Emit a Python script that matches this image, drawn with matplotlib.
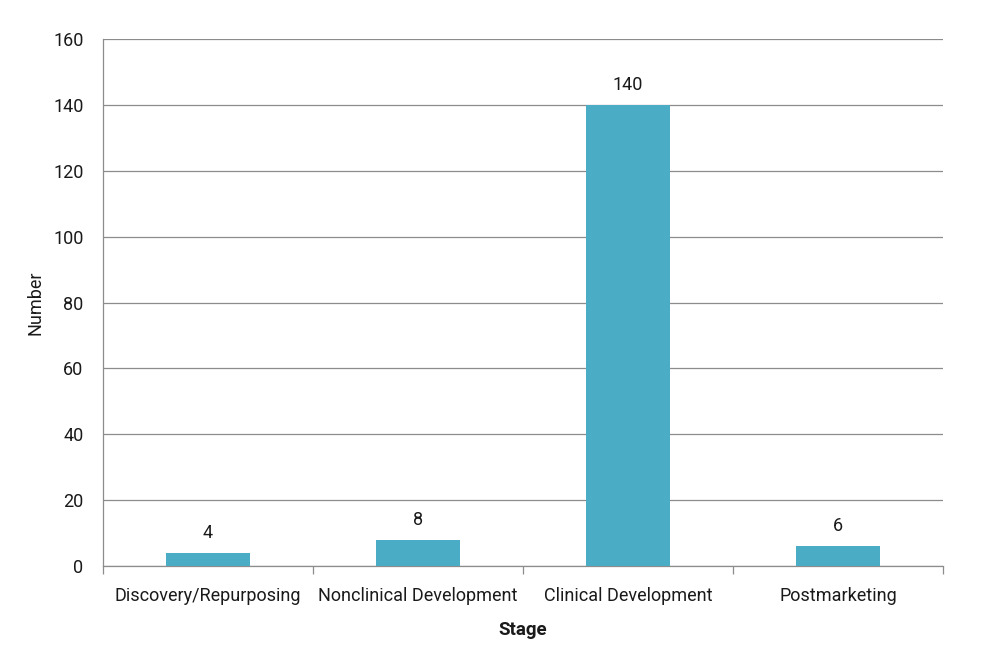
import matplotlib.pyplot as plt
import numpy as np

plt.rcParams['font.family'] = ['Roboto', 'DejaVu Sans']

stages = ["Discovery/Repurposing", "Nonclinical Development",
          "Clinical Development", "Postmarketing"]
counts = [4, 8, 140, 6]
y_ticks = [0, 20, 40, 60, 80, 100, 120, 140, 160]

bar_color = "#4BACC6"
text_color = "#1a1a1a"

fig = plt.figure(figsize=(9.85, 6.52), dpi=100)
ax = fig.add_axes([0.1046, 0.132, 0.8528, 0.808])

x = np.arange(len(stages))
ax.bar(x, counts, width=0.4, color=bar_color, zorder=3)
for xi, v in zip(x, counts):
    ax.text(xi, v + 3.3, str(v), ha="center", va="bottom",
            fontsize=13, color=text_color)

ax.set_xlim(-0.5, len(stages) - 0.5)
ax.set_ylim(0, 160)
ax.set_yticks(y_ticks)
ax.set_yticklabels([str(t) for t in y_ticks], fontsize=13, color=text_color)
ax.yaxis.grid(True, color="#8c8c8c", linewidth=0.9, zorder=0)
ax.tick_params(axis="y", length=0, pad=14)

# category labels between boundary ticks (Excel style)
ax.set_xticks(np.arange(-0.5, len(stages), 1.0))
ax.set_xticklabels([])
ax.set_xticks(x, minor=True)
ax.set_xticklabels(stages, minor=True, fontsize=13, color=text_color)
ax.tick_params(axis="x", which="major", length=6, color="#8c8c8c", width=0.9)
ax.tick_params(axis="x", which="minor", length=0, pad=15.5)

for side in ["top", "right"]:
    ax.spines[side].set_visible(False)
ax.spines["left"].set_color("#8c8c8c")
ax.spines["bottom"].set_color("#8c8c8c")
ax.spines["left"].set_linewidth(0.9)
ax.spines["bottom"].set_linewidth(0.9)

ax.set_xlabel("Stage", fontsize=13.5, fontweight="bold", color=text_color, labelpad=11)
ax.set_ylabel("Number", fontsize=13, color=text_color, labelpad=6)

fig.savefig("out.png", dpi=100)
